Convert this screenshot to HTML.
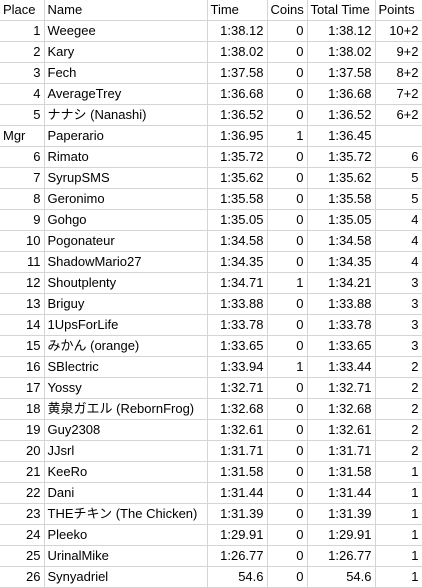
<!DOCTYPE html>
<html><head><meta charset="utf-8"><style>
html,body{margin:0;padding:0;background:#fff;width:422px;height:588px;overflow:hidden}
table{border-collapse:collapse;table-layout:fixed;width:422px;font-family:"Liberation Sans","Noto Sans CJK JP",sans-serif;font-size:13px;color:#000}
td{height:20px;padding:0 3px;border-right:1px solid #d4d4d4;border-bottom:1px solid #d4d4d4;white-space:nowrap;overflow:hidden;line-height:20px}
td.r{text-align:right}
</style></head><body>
<table>
<colgroup><col style="width:44px"><col style="width:163px"><col style="width:60px"><col style="width:40px"><col style="width:68px"><col style="width:47px"></colgroup>
<tbody id="tb"></tbody>
</table>
<script>
const places=["1","2","3","4","5","Mgr","6","7","8","9","10","11","12","13","14","15","16","17","18","19","20","21","22","23","24","25","26"];
const names=["Weegee","Kary","Fech","AverageTrey","ナナシ (Nanashi)","Paperario","Rimato","SyrupSMS","Geronimo","Gohgo","Pogonateur","ShadowMario27","Shoutplenty","Briguy","1UpsForLife","みかん (orange)","SBlectric","Yossy","黄泉ガエル (RebornFrog)","Guy2308","JJsrl","KeeRo","Dani","THEチキン (The Chicken)","Pleeko","UrinalMike","Synyadriel"];
const times=["1:38.12","1:38.02","1:37.58","1:36.68","1:36.52","1:36.95","1:35.72","1:35.62","1:35.58","1:35.05","1:34.58","1:34.35","1:34.71","1:33.88","1:33.78","1:33.65","1:33.94","1:32.71","1:32.68","1:32.61","1:31.71","1:31.58","1:31.44","1:31.39","1:29.91","1:26.77","54.6"];
const coins=["0","0","0","0","0","1","0","0","0","0","0","0","1","0","0","0","1","0","0","0","0","0","0","0","0","0","0"];
const totals=["1:38.12","1:38.02","1:37.58","1:36.68","1:36.52","1:36.45","1:35.72","1:35.62","1:35.58","1:35.05","1:34.58","1:34.35","1:34.21","1:33.88","1:33.78","1:33.65","1:33.44","1:32.71","1:32.68","1:32.61","1:31.71","1:31.58","1:31.44","1:31.39","1:29.91","1:26.77","54.6"];
const points=["10+2","9+2","8+2","7+2","6+2","","6","5","5","4","4","4","3","3","3","3","2","2","2","2","2","1","1","1","1","1","1"];
const tb=document.getElementById('tb');
function cell(tr,text,right,name){const td=document.createElement('td');td.textContent=text;if(right)td.className='r';


tr.appendChild(td);}
const hdr=document.createElement('tr');


["Place","Name","Time","Coins","Total Time","Points"].forEach(h=>cell(hdr,h,false,'column-header'));
tb.appendChild(hdr);
for(let i=0;i<names.length;i++){
const tr=document.createElement('tr');


cell(tr,places[i],places[i]!=="Mgr",'place-cell');
cell(tr,names[i],false,'name-cell');
cell(tr,times[i],true,'time-cell');
cell(tr,coins[i],true,'coins-cell');
cell(tr,totals[i],true,'total-time-cell');
cell(tr,points[i],true,'points-cell');
tb.appendChild(tr);}
</script>
</body></html>
